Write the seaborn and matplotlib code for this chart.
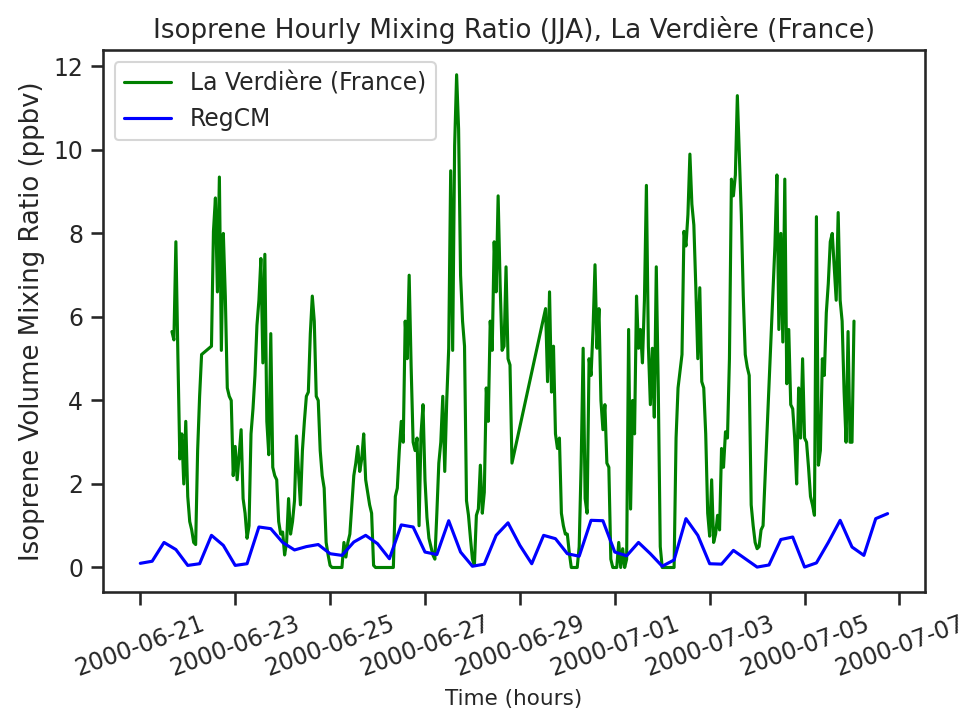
import numpy as np
import pandas as pd
import matplotlib
matplotlib.use("Agg")
import matplotlib.pyplot as plt
import matplotlib.dates as mdates
import seaborn as sns

# ─────────────────────────────────────────────
# DATA
# ─────────────────────────────────────────────
station_name = "La Verdière (France)"
model_name = "RegCM"

# Hourly observations starting 2000-06-21 16:00, one row per day after the first.
# None = no measurement for that hour (the line just connects across it).
obs_start = "2000-06-21 16:00"
obs_hourly = [
    # 06-21 16:00-23:00
    [5.65, 5.45, 7.8, 5.1, 2.6, 3.2, 2.0, 3.5],
    # 06-22
    [1.7, 1.1, 0.9, 0.6, 0.55, 2.8, 4.1, 5.1, None, None, None, None,
     5.3, 8.05, 8.85, 6.6, 9.35, 5.2, 8.0, 6.5, 4.3, 4.1, 4.0, 2.2],
    # 06-23
    [2.9, 2.1, 2.7, 3.3, 1.65, 1.3, 0.7, 1.0, 3.2, 3.8, 4.6, 5.8,
     6.4, 7.4, 4.9, 7.5, 3.5, 2.7, 5.6, 2.4, 2.2, 2.1, 1.1, 0.8],
    # 06-24
    [0.85, 0.3, 0.6, 1.65, 0.8, 1.1, 1.6, 3.15, 2.3, 1.5, 2.8, 3.5,
     4.1, 4.2, 5.6, 6.5, 5.9, 4.1, 4.0, 2.8, 2.2, 1.9, 0.6, 0.3],
    # 06-25
    [0.05, 0.0, 0.0, 0.0, 0.0, 0.0, 0.0, 0.6, 0.25, 0.6, 0.8, 1.5,
     2.2, 2.5, 2.9, 2.3, 2.6, 3.2, 2.1, 1.8, 1.5, 1.3, 0.05, 0.0],
    # 06-26
    [0.0, 0.0, 0.0, 0.0, 0.0, 0.0, 0.0, 0.0, 0.0, 1.7, 1.9, 2.8,
     3.5, 3.0, 5.9, 5.0, 7.0, 4.8, 3.0, 2.8, 3.1, 1.0, 3.2, 3.9],
    # 06-27
    [2.1, 1.2, 0.7, 0.5, 0.3, 0.2, 1.3, 2.5, 3.0, 4.1, 2.3, 4.0,
     5.25, 9.5, 5.2, 10.1, 11.8, 10.5, 7.0, 5.9, 5.3, 1.6, 1.25, 0.7],
    # 06-28
    [0.2, 0.05, 1.25, 1.4, 2.45, 1.3, 1.8, 4.3, 3.5, 5.9, 5.2, 7.8,
     6.6, 8.9, 6.8, 5.2, 5.3, 7.2, 5.0, 4.85, 2.5, None, None, None],
    # 06-29
    [None, None, None, None, None, None, None, None, None, None, None, None,
     None, 6.2, 4.45, 6.6, 4.2, 5.3, 3.2, 2.85, 3.1, 1.3, 1.0, 0.8],
    # 06-30
    [0.8, 0.35, 0.0, 0.0, 0.0, 0.0, 0.5, 2.5, 5.25, 1.65, 1.3, 5.0,
     4.6, 5.7, 7.25, 5.25, 6.2, 4.0, 3.3, 3.9, 2.5, 2.4, 0.2, 0.0],
    # 07-01
    [0.0, 0.0, 0.6, 0.0, 0.45, 0.0, 0.2, 5.7, 1.4, 4.0, 3.2, 6.5,
     5.25, 5.7, 4.9, 6.4, 9.15, 5.3, 3.9, 5.25, 3.6, 7.2, 4.3, 0.5],
    # 07-02
    [0.0, 0.0, 0.0, 0.0, 0.0, 0.0, 0.0, 3.1, 4.3, 4.7, 5.1, 8.05,
     7.7, 8.45, 9.9, 8.7, 8.2, 6.7, 5.0, 6.7, 4.45, 4.3, 3.2, 1.3],
    # 07-03
    [0.75, 2.1, 0.6, 0.8, 1.25, 0.9, 2.85, 2.4, 3.25, 3.1, 5.0, 9.3,
     8.9, 9.4, 11.3, 9.9, 8.45, 6.5, 5.1, 4.8, 4.6, 1.5, 1.0, 0.6],
    # 07-04
    [0.45, 0.5, 0.9, 1.0, None, None, None, None, None, 7.7, 9.4, 5.7,
     8.0, 5.4, 9.3, 4.4, 5.7, 3.9, 3.8, 3.1, 2.0, 4.3, 3.1, 5.0],
    # 07-05
    [3.1, 3.0, 2.4, 1.7, 1.5, 1.25, 8.4, 2.45, 2.8, 5.0, 4.6, 6.1,
     6.8, 7.8, 8.0, 7.2, 6.4, 8.5, 6.4, 5.9, 4.2, 3.0, 5.65, 3.0],
    # 07-06 00:00-01:00
    [3.0, 5.9],
]

# RegCM output, 6-hourly from 2000-06-21 00:00
model_start = "2000-06-21 00:00"
model_6h = [
    0.10, 0.15, 0.60, 0.43, 0.05, 0.09, 0.77, 0.53,   # 06-21, 06-22
    0.05, 0.09, 0.97, 0.93, 0.60, 0.42, 0.50, 0.55,   # 06-23, 06-24
    0.33, 0.29, 0.61, 0.77, 0.57, 0.21, 1.02, 0.97,   # 06-25, 06-26
    0.37, 0.31, 1.12, 0.37, 0.03, 0.08, 0.77, 1.07,   # 06-27, 06-28
    0.53, 0.09, 0.77, 0.69, 0.33, 0.27, 1.13, 1.12,   # 06-29, 06-30
    0.37, 0.28, 0.60, 0.33, 0.03, 0.18, 1.17, 0.77,   # 07-01, 07-02
    0.09, 0.08, 0.41, 0.21, 0.01, 0.06, 0.67, 0.73,   # 07-03, 07-04
    0.01, 0.11, 0.60, 1.13, 0.49, 0.29, 1.17, 1.29,   # 07-05, 07-06
]

# ─────────────────────────────────────────────
# BUILD TABLES
# ─────────────────────────────────────────────
obs_vals = [v for row in obs_hourly for v in row]
obs = pd.DataFrame({
    "time": pd.date_range(obs_start, periods=len(obs_vals), freq="h"),
    "ppbv": pd.to_numeric(pd.Series(obs_vals, dtype="object"), errors="coerce"),
}).dropna()

model = pd.DataFrame({
    "time": pd.date_range(model_start, periods=len(model_6h), freq="6h"),
    "ppbv": model_6h,
})

# ─────────────────────────────────────────────
# PLOT
# ─────────────────────────────────────────────
sns.set_theme(style="ticks", context="notebook")
plt.rcParams["font.family"] = ["DejaVu Sans"]

fig = plt.figure(figsize=(962 / 150, 716 / 150), dpi=150)
ax = fig.add_axes([0.107, 0.173, 0.8545, 0.757])

sns.lineplot(data=obs, x="time", y="ppbv", color="green",
             label=station_name, estimator=None, ax=ax)
sns.lineplot(data=model, x="time", y="ppbv", color="blue",
             label=model_name, estimator=None, ax=ax)

ax.set_title("Isoprene Hourly Mixing Ratio (JJA), La Verdière (France)", fontsize=12.6)
ax.set_ylabel("Isoprene Volume Mixing Ratio (ppbv)", fontsize=12.5)
ax.set_xlabel("Time (hours)", fontsize=10.3)

ax.xaxis.set_major_locator(mdates.DayLocator(bymonthday=range(1, 32, 2)))
ax.xaxis.set_major_formatter(mdates.DateFormatter("%Y-%m-%d"))
ax.tick_params(labelsize=11.3)
plt.setp(ax.get_xticklabels(), rotation=20)

ax.legend(loc="upper left", fontsize=11.3)

fig.savefig("out.png", dpi=150)
